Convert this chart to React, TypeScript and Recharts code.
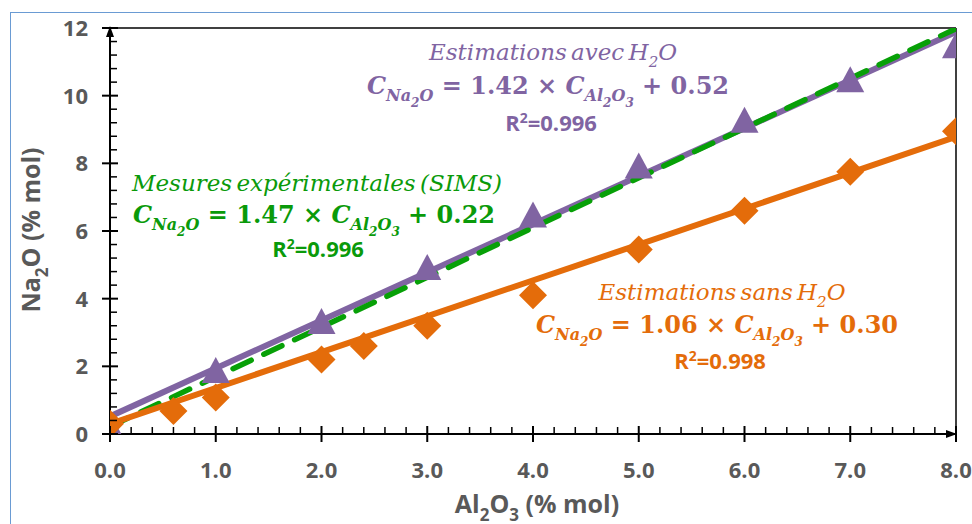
import React from 'react';
import { ComposedChart, Line, Scatter, XAxis, YAxis, ReferenceLine, ReferenceDot } from 'recharts';

// mesures / estimations (% mol)
const avecH2O = [
  { x: 0, y: 0.15 }, { x: 1, y: 1.8 }, { x: 2, y: 3.25 }, { x: 3, y: 4.85 }, { x: 4, y: 6.4 },
  { x: 5, y: 7.85 }, { x: 6, y: 9.2 }, { x: 7, y: 10.4 }, { x: 8, y: 11.4 },
];
const sansH2O = [
  { x: 0, y: 0.3 }, { x: 0.6, y: 0.68 }, { x: 1, y: 1.08 }, { x: 2, y: 2.2 }, { x: 2.4, y: 2.6 },
  { x: 3, y: 3.2 }, { x: 4, y: 4.1 }, { x: 5, y: 5.45 }, { x: 6, y: 6.6 }, { x: 7, y: 7.75 }, { x: 8, y: 8.95 },
];
// droites de tendance (extrémités)
const trendAvec = [{ x: 0, y: 0.52 }, { x: 8, y: 11.88 }];
const trendSims = [{ x: 0, y: 0.22 }, { x: 8, y: 11.98 }];
const trendSans = [{ x: 0, y: 0.3 }, { x: 8, y: 8.78 }];

const xMajor = [0, 1, 2, 3, 4, 5, 6, 7, 8];
const yMajor = [0, 2, 4, 6, 8, 10, 12];

const PURPLE = '#8064A2';
const ORANGE = '#E46C0A';
const GREEN = '#07A007';
const GREEN_TXT = '#0A9A0A';
const GREY = '#595959';

const subdivide = (major: number[], n: number) => {
  const out: number[] = [];
  for (let i = 0; i < major.length - 1; i++) {
    const step = (major[i + 1] - major[i]) / n;
    for (let k = 0; k < n; k++) out.push(+(major[i] + k * step).toFixed(3));
  }
  out.push(major[major.length - 1]);
  return out;
};
const xTicks = subdivide(xMajor, 5);
const yTicks = subdivide(yMajor, 5);

const isMajor = (v: number, list: number[]) => list.some((m) => Math.abs(m - v) < 1e-6);

const XTick = (props: any) => {
  const { x, y, payload } = props;
  const v = payload.value;
  if (isMajor(v, xMajor)) {
    return (
      <g>
        <line x1={x} x2={x} y1={y - 8} y2={y + 8} stroke="#000" strokeWidth={2} />
        <text x={x} y={y + 44} textAnchor="middle" fill={GREY} fontSize={22} fontWeight={700} fontFamily="Open Sans">
          {v.toFixed(1)}
        </text>
      </g>
    );
  }
  return <line x1={x} x2={x} y1={y - 7} y2={y} stroke="#000" strokeWidth={1.5} />;
};

const YTick = (props: any) => {
  const { x, y, payload } = props;
  const v = payload.value;
  if (isMajor(v, yMajor)) {
    return (
      <g>
        <line x1={x - 8} x2={x + 8} y1={y} y2={y} stroke="#000" strokeWidth={2} />
        <text x={x - 22} y={y + 8} textAnchor="end" fill={GREY} fontSize={22} fontWeight={700} fontFamily="Open Sans">
          {v}
        </text>
      </g>
    );
  }
  return <line x1={x} x2={x + 7} y1={y} y2={y} stroke="#000" strokeWidth={1.5} />;
};

const Triangle = (props: any) => {
  const { cx, cy } = props;
  return <polygon points={`${cx},${cy - 16} ${cx - 14},${cy + 10} ${cx + 14},${cy + 10}`} fill={PURPLE} />;
};

const Diamond = (props: any) => {
  const { cx, cy } = props;
  return <polygon points={`${cx},${cy - 14} ${cx + 14},${cy} ${cx},${cy + 14} ${cx - 14},${cy}`} fill={ORANGE} />;
};

const ArrowUp = (props: any) => {
  const { cx, cy } = props;
  return <polygon points={`${cx},${cy - 2} ${cx - 4},${cy + 9} ${cx + 4},${cy + 9}`} fill="#000" />;
};
const ArrowRight = (props: any) => {
  const { cx, cy } = props;
  return <polygon points={`${cx + 1},${cy} ${cx - 10},${cy - 4} ${cx - 10},${cy + 4}`} fill="#000" />;
};

const Sub = ({ children, size }: any) => (
  <sub style={{ fontSize: size, lineHeight: 0, verticalAlign: 'baseline', position: 'relative', top: size * 0.45 }}>{children}</sub>
);

const Txt = ({ cx, cy, color, style, children }: any) => (
  <div style={{ position: 'absolute', left: cx, top: cy, transform: 'translate(-50%, -50%)', color, lineHeight: 1, whiteSpace: 'nowrap', ...style }}>
    {children}
  </div>
);

const titleStyle: React.CSSProperties = { fontFamily: 'DejaVu Serif', fontStyle: 'italic', fontSize: 23, wordSpacing: -3 };
const eqStyle: React.CSSProperties = { fontFamily: 'DejaVu Serif', fontWeight: 700, fontSize: 24 };
const r2Style: React.CSSProperties = { fontFamily: 'Open Sans', fontWeight: 700, fontSize: 22 };

const Equation = ({ slope, icpt }: any) => (
  <>
    <i>C<Sub size={16}>Na<Sub size={12}>2</Sub>O</Sub></i> = {slope} ×{' '}
    <i>C<Sub size={16}>Al<Sub size={12}>2</Sub>O<Sub size={12}>3</Sub></Sub></i> + {icpt}
  </>
);

const R2 = ({ v }: any) => (
  <>
    R<sup style={{ fontSize: 14, lineHeight: 0 }}>2</sup>={v}
  </>
);

export default function App() {
  return (
    <div style={{ position: 'absolute', left: 0, top: 0, width: 972, height: 524, overflow: 'hidden', background: '#fff' }}>
      <div style={{ position: 'absolute', left: 10, top: 12, width: 1000, height: 600, border: '1.5px solid #6A9BD3' }} />
      <div style={{ position: 'absolute', left: 0, top: 0 }}>
        <ComposedChart width={972} height={524} margin={{ top: 28, right: 16, bottom: 30, left: 0 }}>
          <XAxis
            type="number" dataKey="x" domain={[0, 8]} ticks={xTicks} interval={0} height={60}
            tick={<XTick />} tickLine={false} tickSize={0} tickMargin={0}
            axisLine={{ stroke: '#000', strokeWidth: 2 }} allowDataOverflow
          />
          <YAxis
            type="number" dataKey="y" domain={[0, 12]} ticks={yTicks} interval={0} width={110}
            tick={<YTick />} tickLine={false} tickSize={0} tickMargin={0}
            axisLine={{ stroke: '#000', strokeWidth: 2 }} allowDataOverflow
          />
          <ReferenceLine y={12} stroke="#000" strokeWidth={1.5} ifOverflow="visible" />
          <ReferenceLine x={8} stroke="#000" strokeWidth={1.5} ifOverflow="visible" />
          <Line data={trendAvec} dataKey="y" stroke={PURPLE} strokeWidth={6} dot={false} isAnimationActive={false} />
          <Scatter data={avecH2O} dataKey="y" shape={<Triangle />} isAnimationActive={false} />
          <Line data={trendSims} dataKey="y" stroke={GREEN} strokeWidth={5.5} strokeDasharray="20 14" strokeLinecap="round" dot={false} isAnimationActive={false} />
          <Line data={trendSans} dataKey="y" stroke={ORANGE} strokeWidth={6} dot={false} isAnimationActive={false} />
          <Scatter data={sansH2O} dataKey="y" shape={<Diamond />} isAnimationActive={false} />
          <ReferenceDot x={0} y={12} shape={<ArrowUp />} ifOverflow="visible" />
          <ReferenceDot x={8} y={0} shape={<ArrowRight />} ifOverflow="visible" />
        </ComposedChart>
      </div>
      <Txt cx={30} cy={230} color={GREY} style={{ fontFamily: 'Open Sans', fontWeight: 700, fontSize: 25, transform: 'translate(-50%, -50%) rotate(-90deg)' }}>
        Na<Sub size={17}>2</Sub>O (% mol)
      </Txt>
      <Txt cx={537} cy={503} color={GREY} style={{ fontFamily: 'Open Sans', fontWeight: 700, fontSize: 25 }}>
        Al<Sub size={17}>2</Sub>O<Sub size={17}>3</Sub> (% mol)
      </Txt>

      <Txt cx={553} cy={52} color={PURPLE} style={titleStyle}>Estimations avec H<Sub size={15}>2</Sub>O</Txt>
      <Txt cx={548} cy={86} color={PURPLE} style={eqStyle}><Equation slope="1.42" icpt="0.52" /></Txt>
      <Txt cx={551} cy={122} color={PURPLE} style={r2Style}><R2 v="0.996" /></Txt>

      <Txt cx={317} cy={183} color={GREEN_TXT} style={titleStyle}>Mesures expérimentales (SIMS)</Txt>
      <Txt cx={314} cy={215} color={GREEN_TXT} style={eqStyle}><Equation slope="1.47" icpt="0.22" /></Txt>
      <Txt cx={318} cy={248} color={GREEN_TXT} style={r2Style}><R2 v="0.996" /></Txt>

      <Txt cx={722} cy={292} color={ORANGE} style={titleStyle}>Estimations sans H<Sub size={15}>2</Sub>O</Txt>
      <Txt cx={717} cy={325} color={ORANGE} style={eqStyle}><Equation slope="1.06" icpt="0.30" /></Txt>
      <Txt cx={720} cy={360} color={ORANGE} style={r2Style}><R2 v="0.998" /></Txt>
    </div>
  );
}
